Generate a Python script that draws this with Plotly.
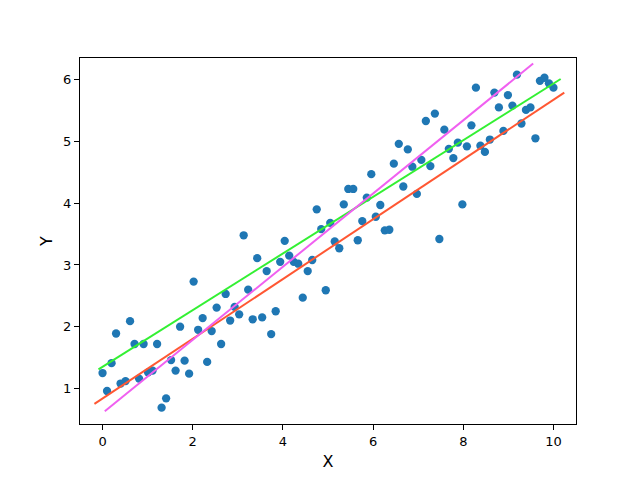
import plotly.graph_objects as go

# scatter data
x_vals = [0.00, 0.10, 0.20, 0.30, 0.40, 0.51, 0.61, 0.71, 0.81, 0.91,
          1.01, 1.11, 1.21, 1.31, 1.41, 1.52, 1.62, 1.72, 1.82, 1.92,
          2.02, 2.12, 2.22, 2.32, 2.42, 2.53, 2.63, 2.73, 2.83, 2.93,
          3.03, 3.13, 3.23, 3.33, 3.43, 3.54, 3.64, 3.74, 3.84, 3.94,
          4.04, 4.14, 4.24, 4.34, 4.44, 4.55, 4.65, 4.75, 4.85, 4.95,
          5.05, 5.15, 5.25, 5.35, 5.45, 5.56, 5.66, 5.76, 5.86, 5.96,
          6.06, 6.16, 6.26, 6.36, 6.46, 6.57, 6.67, 6.77, 6.87, 6.97,
          7.07, 7.17, 7.27, 7.37, 7.47, 7.58, 7.68, 7.78, 7.88, 7.98,
          8.08, 8.18, 8.28, 8.38, 8.48, 8.59, 8.69, 8.79, 8.89, 8.99,
          9.09, 9.19, 9.29, 9.39, 9.49, 9.60, 9.70, 9.80, 9.90, 10.00]
y_vals = [1.25, 0.96, 1.41, 1.89, 1.08, 1.12, 2.09, 1.72, 1.16, 1.72,
          1.26, 1.29, 1.72, 0.69, 0.84, 1.46, 1.29, 2.00, 1.45, 1.24,
          2.73, 1.95, 2.14, 1.43, 1.93, 2.31, 1.72, 2.53, 2.10, 2.32,
          2.20, 3.48, 2.60, 2.12, 3.11, 2.15, 2.90, 1.88, 2.25, 3.05,
          3.39, 3.15, 3.05, 3.02, 2.47, 2.90, 3.08, 3.90, 3.58, 2.59,
          3.68, 3.38, 3.27, 3.98, 4.23, 4.23, 3.40, 3.71, 4.09, 4.47,
          3.78, 3.97, 3.56, 3.57, 4.64, 4.96, 4.27, 4.87, 4.59, 4.15,
          4.70, 5.33, 4.60, 5.45, 3.42, 5.19, 4.88, 4.73, 4.98, 3.98,
          4.92, 5.26, 5.87, 4.93, 4.83, 5.03, 5.79, 5.55, 5.17, 5.75,
          5.58, 6.08, 5.29, 5.51, 5.55, 5.05, 5.98, 6.03, 5.94, 5.87]

# fitted lines (endpoints)
green_x = [-0.09, 10.16]
green_y = [1.31, 6.01]
red_x = [-0.18, 10.24]
red_y = [0.75, 5.79]
magenta_x = [0.05, 9.55]
magenta_y = [0.63, 6.26]

fig = go.Figure()
fig.add_trace(go.Scatter(x=x_vals, y=y_vals, mode="markers",
                         marker=dict(color="#1f77b4", size=8.3)))
fig.add_trace(go.Scatter(x=green_x, y=green_y, mode="lines",
                         line=dict(color="#33f033", width=2)))
fig.add_trace(go.Scatter(x=red_x, y=red_y, mode="lines",
                         line=dict(color="#ff5733", width=2)))
fig.add_trace(go.Scatter(x=magenta_x, y=magenta_y, mode="lines",
                         line=dict(color="#f060f0", width=2)))

axis_style = dict(showgrid=False, zeroline=False, showline=True, mirror=True,
                  linecolor="black", linewidth=1, ticks="outside", ticklen=5,
                  tickwidth=1, tickcolor="black",
                  tickfont=dict(family="DejaVu Sans", size=13, color="black"))

# page body has an 8px margin, so the figure is shrunk and offset to match
fig.update_layout(
    width=632, height=472, autosize=False,
    paper_bgcolor="white", plot_bgcolor="white",
    showlegend=False,
    margin=dict(l=72, r=64, t=50, b=53),
    font=dict(family="DejaVu Sans", size=13, color="black"),
    xaxis=dict(range=[-0.5, 10.5], tickvals=[0, 2, 4, 6, 8, 10],
               title=dict(text="X", standoff=8), **axis_style),
    yaxis=dict(range=[0.425, 6.35], tickvals=[1, 2, 3, 4, 5, 6],
               title=dict(text="Y", standoff=6), **axis_style),
)

fig.write_html("out.html")
